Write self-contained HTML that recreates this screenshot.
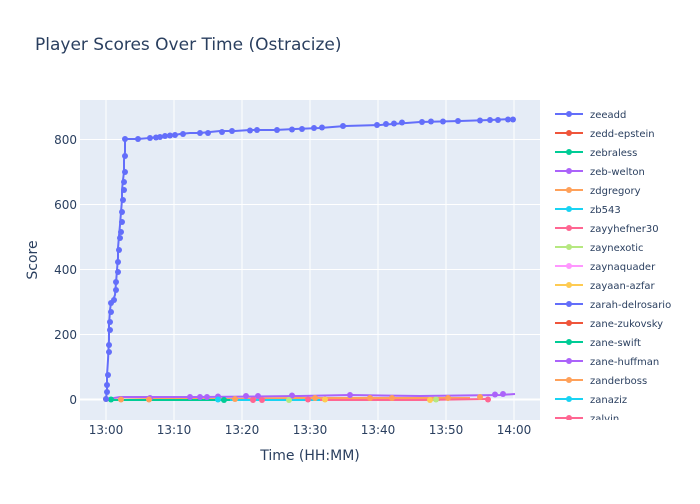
<!DOCTYPE html>
<html><head><style>
body{margin:0;background:#fff;font-family:"DejaVu Sans","Liberation Sans",sans-serif}
</style></head><body>
<svg width="700" height="500" xmlns="http://www.w3.org/2000/svg" font-family="DejaVu Sans, Liberation Sans, sans-serif">
<rect width="700" height="500" fill="#fff"/>
<text x="35" y="50" font-size="17" fill="#2a3f5f">Player Scores Over Time (Ostracize)</text>
<rect x="80" y="100" width="460" height="320" fill="#e5ecf6"/>
<g stroke="#fff" stroke-width="1">
<line x1="80" x2="540" y1="399.5" y2="399.5" stroke-width="2"/>
<line x1="80" x2="540" y1="334.5" y2="334.5"/>
<line x1="80" x2="540" y1="269.5" y2="269.5"/>
<line x1="80" x2="540" y1="204.5" y2="204.5"/>
<line x1="80" x2="540" y1="139.5" y2="139.5"/>
<line y1="100" y2="420" x1="106" x2="106"/>
<line y1="100" y2="420" x1="174" x2="174"/>
<line y1="100" y2="420" x1="242" x2="242"/>
<line y1="100" y2="420" x1="310" x2="310"/>
<line y1="100" y2="420" x1="378" x2="378"/>
<line y1="100" y2="420" x1="446" x2="446"/>
<line y1="100" y2="420" x1="514" x2="514"/>
</g>
<g font-size="12" fill="#2a3f5f" text-anchor="end">
<text x="77" y="404">0</text><text x="77" y="339">200</text><text x="77" y="274">400</text><text x="77" y="209">600</text><text x="77" y="144">800</text>
</g>
<g font-size="12" fill="#2a3f5f" text-anchor="middle">
<text x="106" y="434">13:00</text><text x="174" y="434">13:10</text><text x="242" y="434">13:20</text><text x="310" y="434">13:30</text><text x="378" y="434">13:40</text><text x="446" y="434">13:50</text><text x="514" y="434">14:00</text>
</g>
<text x="310" y="460" font-size="14" fill="#2a3f5f" text-anchor="middle">Time (HH:MM)</text>
<text x="37" y="260" font-size="14" fill="#2a3f5f" text-anchor="middle" transform="rotate(-90 37 260)">Score</text>
<g stroke-width="2" fill="none">
<polyline stroke="#ab63fa" points="108,399 120,397 200,397 300,396 350,395 420,396 500,395 515,394"/>
<polyline stroke="#fea15a" points="105,400 150,399 230,399 300,398 400,398 470,398"/>
<polyline stroke="#b6e880" points="106,400 250,400 350,400 440,400"/>
<polyline stroke="#ff6692" points="250,400 320,400 420,400 488,399"/>
<polyline stroke="#19d3f3" points="115,400 220,400 320,400"/>
<polyline stroke="#00cc96" points="109,400 230,400"/>
</g>
<g fill="#ab63fa"><circle cx="150" cy="398" r="3"/><circle cx="190" cy="397" r="3"/><circle cx="200" cy="397" r="3"/><circle cx="207" cy="397" r="3"/><circle cx="218" cy="396.5" r="3"/><circle cx="246" cy="396" r="3"/><circle cx="258" cy="396" r="3"/><circle cx="292" cy="395.5" r="3"/><circle cx="350" cy="395" r="3"/><circle cx="495" cy="394.5" r="3"/><circle cx="503" cy="394" r="3"/></g>
<g fill="#fea15a"><circle cx="106" cy="399" r="3"/><circle cx="121" cy="399.5" r="3"/><circle cx="149" cy="399.5" r="3"/><circle cx="235" cy="399" r="3"/><circle cx="315" cy="398" r="3"/><circle cx="370" cy="398" r="3"/><circle cx="392" cy="398" r="3"/><circle cx="448" cy="398" r="3"/><circle cx="480" cy="397" r="3"/></g>
<g fill="#b6e880"><circle cx="289" cy="400" r="3"/><circle cx="436" cy="399.5" r="3"/></g>
<g fill="#ff6692"><circle cx="253" cy="400" r="3"/><circle cx="262" cy="400" r="3"/><circle cx="308" cy="399.5" r="3"/><circle cx="488" cy="399.5" r="3"/></g>
<g fill="#19d3f3"><circle cx="218" cy="399.5" r="3"/></g>
<g fill="#fecb52"><circle cx="325" cy="399.5" r="3"/><circle cx="430" cy="400" r="3"/></g>
<g fill="#00cc96"><circle cx="111" cy="399.5" r="3"/><circle cx="224" cy="400" r="3"/></g>
<polyline stroke="#636efa" stroke-width="2" fill="none" points="106,399 107,390 107,375 108,360 109,340 109,325 110,310 111,303 113,300 115,295 116,283 117,270 118,258 118,248 119,236 120,225 121,212 122,200 122,190 123,180 124,172 124,160 125,152 125,139 138,139 150,138 160,137 170,136 180,134 190,133 200,133 210,132 220,131 235,131 250,130 275,130 295,129 320,128 345,126 380,125 420,122 460,121 490,120 513,119"/>
<g fill="#636efa">
<circle cx="106" cy="399" r="3"/><circle cx="107" cy="392" r="3"/><circle cx="107" cy="385" r="3"/><circle cx="108" cy="375" r="3"/><circle cx="109" cy="352" r="3"/><circle cx="109" cy="345" r="3"/><circle cx="110" cy="330" r="3"/><circle cx="110" cy="322" r="3"/><circle cx="111" cy="312" r="3"/><circle cx="111" cy="303" r="3"/><circle cx="114" cy="300" r="3"/><circle cx="116" cy="290" r="3"/><circle cx="116" cy="282" r="3"/><circle cx="118" cy="272" r="3"/><circle cx="118" cy="262" r="3"/><circle cx="119" cy="250" r="3"/><circle cx="120" cy="238" r="3"/><circle cx="121" cy="232" r="3"/><circle cx="122" cy="222" r="3"/><circle cx="122" cy="212" r="3"/><circle cx="123" cy="200" r="3"/><circle cx="124" cy="190" r="3"/><circle cx="124" cy="182" r="3"/><circle cx="125" cy="172" r="3"/><circle cx="125" cy="156" r="3"/><circle cx="125" cy="139" r="3"/><circle cx="138" cy="139" r="3"/><circle cx="150" cy="138" r="3"/><circle cx="156" cy="137.5" r="3"/><circle cx="160" cy="137" r="3"/><circle cx="165" cy="136" r="3"/><circle cx="170" cy="135.5" r="3"/><circle cx="175" cy="135" r="3"/><circle cx="183" cy="134" r="3"/><circle cx="200" cy="133" r="3"/><circle cx="208" cy="133" r="3"/><circle cx="222" cy="132" r="3"/><circle cx="232" cy="131" r="3"/><circle cx="250" cy="130.5" r="3"/><circle cx="257" cy="130" r="3"/><circle cx="277" cy="130" r="3"/><circle cx="292" cy="129.5" r="3"/><circle cx="302" cy="129" r="3"/><circle cx="314" cy="128" r="3"/><circle cx="322" cy="127.5" r="3"/><circle cx="343" cy="126" r="3"/><circle cx="377" cy="125" r="3"/><circle cx="386" cy="124" r="3"/><circle cx="394" cy="123.5" r="3"/><circle cx="402" cy="122.5" r="3"/><circle cx="422" cy="122" r="3"/><circle cx="431" cy="121.5" r="3"/><circle cx="443" cy="121.5" r="3"/><circle cx="458" cy="121" r="3"/><circle cx="480" cy="120.5" r="3"/><circle cx="490" cy="120" r="3"/><circle cx="498" cy="120" r="3"/><circle cx="508" cy="119.5" r="3"/><circle cx="513" cy="119.5" r="3"/>
</g>
<g font-size="10" fill="#2a3f5f">
<g transform="translate(0,114)"><line x1="555" x2="583" stroke="#636efa" stroke-width="2"/><circle cx="569" r="3" fill="#636efa"/><text x="590" y="4">zeeadd</text></g>
<g transform="translate(0,133)"><line x1="555" x2="583" stroke="#ef553b" stroke-width="2"/><circle cx="569" r="3" fill="#ef553b"/><text x="590" y="4">zedd-epstein</text></g>
<g transform="translate(0,152)"><line x1="555" x2="583" stroke="#00cc96" stroke-width="2"/><circle cx="569" r="3" fill="#00cc96"/><text x="590" y="4">zebraless</text></g>
<g transform="translate(0,171)"><line x1="555" x2="583" stroke="#ab63fa" stroke-width="2"/><circle cx="569" r="3" fill="#ab63fa"/><text x="590" y="4">zeb-welton</text></g>
<g transform="translate(0,190)"><line x1="555" x2="583" stroke="#ffa15a" stroke-width="2"/><circle cx="569" r="3" fill="#ffa15a"/><text x="590" y="4">zdgregory</text></g>
<g transform="translate(0,209)"><line x1="555" x2="583" stroke="#19d3f3" stroke-width="2"/><circle cx="569" r="3" fill="#19d3f3"/><text x="590" y="4">zb543</text></g>
<g transform="translate(0,228)"><line x1="555" x2="583" stroke="#ff6692" stroke-width="2"/><circle cx="569" r="3" fill="#ff6692"/><text x="590" y="4">zayyhefner30</text></g>
<g transform="translate(0,247)"><line x1="555" x2="583" stroke="#b6e880" stroke-width="2"/><circle cx="569" r="3" fill="#b6e880"/><text x="590" y="4">zaynexotic</text></g>
<g transform="translate(0,266)"><line x1="555" x2="583" stroke="#ff97ff" stroke-width="2"/><circle cx="569" r="3" fill="#ff97ff"/><text x="590" y="4">zaynaquader</text></g>
<g transform="translate(0,285)"><line x1="555" x2="583" stroke="#fecb52" stroke-width="2"/><circle cx="569" r="3" fill="#fecb52"/><text x="590" y="4">zayaan-azfar</text></g>
<g transform="translate(0,304)"><line x1="555" x2="583" stroke="#636efa" stroke-width="2"/><circle cx="569" r="3" fill="#636efa"/><text x="590" y="4">zarah-delrosario</text></g>
<g transform="translate(0,323)"><line x1="555" x2="583" stroke="#ef553b" stroke-width="2"/><circle cx="569" r="3" fill="#ef553b"/><text x="590" y="4">zane-zukovsky</text></g>
<g transform="translate(0,342)"><line x1="555" x2="583" stroke="#00cc96" stroke-width="2"/><circle cx="569" r="3" fill="#00cc96"/><text x="590" y="4">zane-swift</text></g>
<g transform="translate(0,361)"><line x1="555" x2="583" stroke="#ab63fa" stroke-width="2"/><circle cx="569" r="3" fill="#ab63fa"/><text x="590" y="4">zane-huffman</text></g>
<g transform="translate(0,380)"><line x1="555" x2="583" stroke="#ffa15a" stroke-width="2"/><circle cx="569" r="3" fill="#ffa15a"/><text x="590" y="4">zanderboss</text></g>
<g transform="translate(0,399)"><line x1="555" x2="583" stroke="#19d3f3" stroke-width="2"/><circle cx="569" r="3" fill="#19d3f3"/><text x="590" y="4">zanaziz</text></g>
<svg x="550" y="410" width="150" height="10"><g transform="translate(0,8)"><line x1="5" x2="33" stroke="#ff6692" stroke-width="2"/><circle cx="19" r="3" fill="#ff6692"/><text x="40" y="4">zalvin</text></g></svg>
</g>
</svg>
</body></html>
